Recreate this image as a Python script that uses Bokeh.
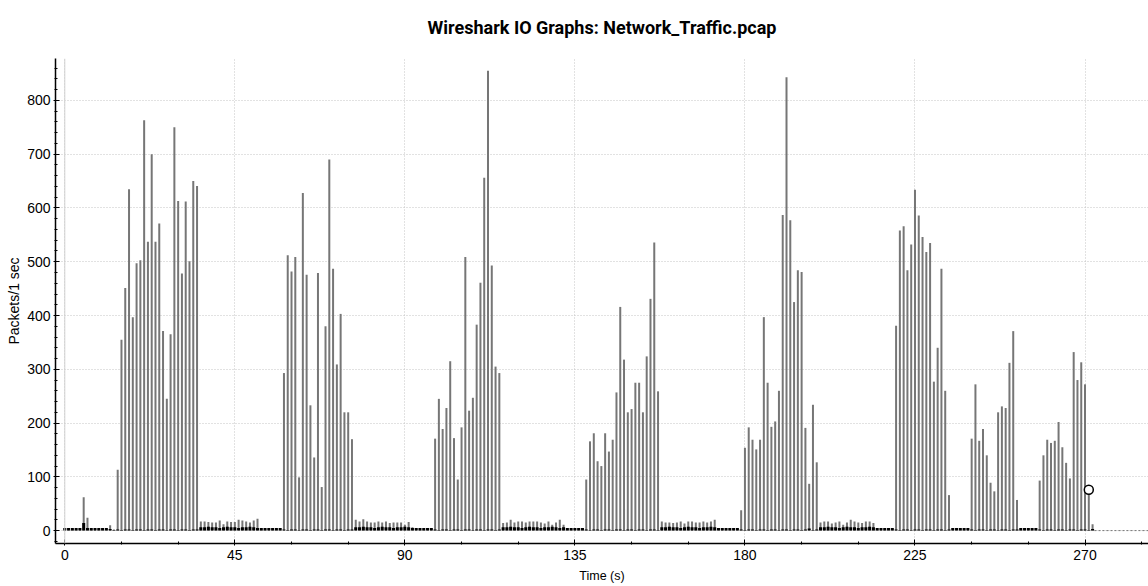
from bokeh.plotting import figure
from bokeh.models import Range1d, Span, FixedTicker, ColumnDataSource, LinearAxis
from bokeh.embed import file_html
from bokeh.resources import INLINE

# ---- data: packets per 1-second interval ----
lead_in   = [4, 4, 3, 4, 4, 62, 24, 4, 4, 3, 4, 4, 10, 2]                       # t 0-13
burst_1   = [113, 355, 451, 635, 397, 497, 503, 763, 537, 700, 537, 571, 371, 245,
             365, 750, 613, 478, 612, 501, 650, 641]                              # t 14-35
trickle_1 = [17, 17, 16, 15, 15, 19, 12, 17, 16, 16, 20, 19, 17, 15, 19, 22]      # t 36-51
idle_1    = [4, 3, 4, 4, 3, 4]                                                    # t 52-57
burst_2   = [293, 512, 482, 509, 99, 628, 476, 233, 136, 479, 81, 380, 690, 487,
             309, 403, 220, 220, 170]                                             # t 58-76
trickle_2 = [20, 17, 21, 17, 15, 15, 17, 15, 17, 14, 15, 15, 15, 11, 16, 6]       # t 77-92
idle_2    = [4, 4, 3, 4, 4]                                                       # t 93-97
burst_3   = [171, 245, 189, 228, 315, 172, 95, 192, 509, 223, 247, 383, 461, 656,
             855, 493, 305, 293]                                                  # t 98-115
trickle_3 = [14, 15, 20, 15, 17, 17, 15, 17, 17, 17, 15, 13, 17, 11, 15, 20, 11]  # t 116-132
idle_3    = [4, 3, 4, 4, 3]                                                       # t 133-137
burst_4   = [95, 166, 181, 129, 120, 181, 147, 169, 257, 416, 318, 220, 226, 275,
             275, 220, 324, 431, 536, 259]                                        # t 138-157
trickle_4 = [17, 15, 15, 14, 15, 17, 13, 17, 17, 15, 15, 17, 15, 17, 20]          # t 158-172
idle_4    = [4, 4, 3, 4, 4, 3]                                                    # t 173-178
burst_5   = [38, 154, 192, 169, 151, 169, 397, 275, 193, 203, 260, 587, 843, 577,
             425, 484, 481, 191, 87, 234, 127]                                    # t 179-199
trickle_5 = [15, 17, 17, 13, 15, 17, 11, 15, 20, 17, 15, 14, 17, 17, 14]          # t 200-214
idle_5    = [4, 3, 4, 4, 3]                                                       # t 215-219
burst_6   = [381, 558, 566, 484, 532, 634, 586, 546, 518, 535, 277, 340, 487, 260, 66]  # t 220-234
idle_6    = [4, 4, 3, 4, 4]                                                       # t 235-239
burst_7   = [171, 272, 167, 189, 140, 89, 73, 220, 231, 228, 312, 371, 57]        # t 240-252
idle_7    = [3, 4, 4, 3, 4]                                                       # t 253-257
burst_8   = [93, 140, 169, 163, 167, 202, 155, 126, 97, 332, 280, 313, 272, 76, 12]  # t 258-272

# second (black) graph: small per-second counts hugging the baseline
low_lead    = [5, 5, 5, 5, 5, 14, 5, 5, 5, 5, 5, 5, 3, 1]
low_b1      = [2, 1, 2, 2, 1, 2, 2, 1, 2, 2, 1, 2, 2, 1, 2, 2, 1, 2, 2, 1, 2, 2]
low_t1      = [6, 6, 7, 6, 6, 5, 6, 7, 6, 6, 5, 6, 6, 7, 6, 5]
low_i1      = [5, 5, 5, 5, 5, 5]
low_b2      = [2, 1, 2, 2, 1, 2, 2, 1, 2, 2, 1, 2, 2, 1, 2, 2, 1, 2, 2]
low_t2      = [6, 6, 7, 6, 6, 5, 6, 7, 6, 6, 5, 6, 6, 7, 6, 5]
low_i2      = [5, 5, 5, 5, 5]
low_b3      = [2, 1, 2, 2, 1, 2, 2, 1, 2, 2, 1, 2, 2, 1, 2, 2, 1, 2]
low_t3      = [6, 6, 7, 6, 6, 5, 6, 7, 6, 6, 5, 6, 6, 7, 6, 5, 6]
low_i3      = [5, 5, 5, 5, 5]
low_b4      = [2, 1, 2, 2, 1, 2, 2, 1, 2, 2, 1, 2, 2, 1, 2, 2, 1, 2, 2, 1]
low_t4      = [6, 6, 7, 6, 6, 5, 6, 7, 6, 6, 5, 6, 6, 7, 6]
low_i4      = [5, 5, 5, 5, 5, 5]
low_b5      = [2, 1, 2, 2, 1, 2, 2, 1, 2, 2, 1, 2, 2, 1, 2, 2, 1, 2, 4, 1, 2]
low_t5      = [6, 6, 7, 6, 6, 5, 6, 7, 6, 6, 5, 6, 6, 7, 6]
low_i5      = [5, 5, 5, 5, 5]
low_b6      = [2, 1, 2, 2, 1, 2, 2, 1, 2, 2, 1, 2, 2, 1, 2]
low_i6      = [5, 5, 5, 5, 5]
low_b7      = [2, 1, 2, 2, 1, 2, 2, 1, 2, 2, 1, 2, 2]
low_i7      = [5, 5, 5, 5, 5]
low_b8      = [2, 1, 2, 2, 1, 2, 2, 1, 2, 2, 1, 2, 2, 1, 3]

x_tick_values = [0, 45, 90, 135, 180, 225, 270]
y_tick_values = [0, 100, 200, 300, 400, 500, 600, 700, 800]
chart_title = "Wireshark IO Graphs: Network_Traffic.pcap"

packets = (lead_in + burst_1 + trickle_1 + idle_1 + burst_2 + trickle_2 + idle_2 +
           burst_3 + trickle_3 + idle_3 + burst_4 + trickle_4 + idle_4 + burst_5 +
           trickle_5 + idle_5 + burst_6 + idle_6 + burst_7 + idle_7 + burst_8)
low = (low_lead + low_b1 + low_t1 + low_i1 + low_b2 + low_t2 + low_i2 + low_b3 + low_t3 +
       low_i3 + low_b4 + low_t4 + low_i4 + low_b5 + low_t5 + low_i5 + low_b6 + low_i6 +
       low_b7 + low_i7 + low_b8)
seconds = list(range(len(packets)))

src = ColumnDataSource(dict(t=seconds, v=packets, low=low, zero=[0] * len(packets)))

X_START, X_END = -2.46, 286.8
p = figure(width=1148, height=586, output_backend="svg", toolbar_location=None,
           x_range=Range1d(X_START, X_END), y_range=Range1d(-24, 878),
           min_border_left=55, min_border_right=0, min_border_top=58, min_border_bottom=43,
           background_fill_color="white", border_fill_color="white")
p.outline_line_color = None
p.title.visible = False

xax, yax = p.below[0], p.left[0]

# chart title, carried by a bare axis above the frame
title_axis = LinearAxis(ticker=FixedTicker(ticks=[], minor_ticks=[]), axis_label=chart_title)
title_axis.axis_line_color = None
title_axis.major_tick_line_color = None
title_axis.minor_tick_line_color = None
title_axis.major_label_standoff = 0
title_axis.axis_label_standoff = 21
title_axis.axis_label_text_font = "Roboto"
title_axis.axis_label_text_font_style = "bold"
title_axis.axis_label_text_font_size = "18px"
title_axis.axis_label_text_color = "black"
p.add_layout(title_axis, "above")

# grid
p.xgrid.ticker = FixedTicker(ticks=x_tick_values)
p.ygrid.ticker = FixedTicker(ticks=y_tick_values)
for g in (p.xgrid, p.ygrid):
    g.grid_line_color = "#c4c4c4"
    g.grid_line_dash = "1 2"
    g.grid_line_width = 1
p.add_layout(Span(location=0, dimension="height", line_color="#d2d2d2", line_width=1))

# axes
x_minor = [v for v in range(-15, 300, 15)]
y_minor = [v for v in range(-20, 880, 20)]
xax.ticker = FixedTicker(ticks=x_tick_values, minor_ticks=x_minor)
yax.ticker = FixedTicker(ticks=y_tick_values, minor_ticks=y_minor)
for ax in (xax, yax):
    ax.axis_line_color = "black"
    ax.axis_line_width = 1.5
    ax.major_tick_line_color = "black"
    ax.minor_tick_line_color = "black"
    ax.major_tick_in = 4
    ax.major_tick_out = 2
    ax.minor_tick_in = 2
    ax.minor_tick_out = 1
    ax.major_label_text_font = "Liberation Sans"
    ax.major_label_text_font_size = "14px"
    ax.major_label_text_color = "black"
    ax.axis_label_text_font = "Liberation Sans"
    ax.axis_label_text_font_style = "normal"
    ax.axis_label_text_color = "black"
xax.major_label_standoff = 4
yax.major_label_standoff = 3
xax.axis_label = "Time (s)"
xax.axis_label_text_font_size = "12.5px"
xax.axis_label_standoff = 6
yax.axis_label = "Packets/1 sec"
yax.axis_label_text_font_size = "14px"
yax.axis_label_standoff = 2

# impulses
p.segment(x0="t", y0="zero", x1="t", y1="v", source=src, line_color="#767676", line_width=2)
# baseline graph
p.vbar(x="t", top="low", bottom="zero", width=0.8, source=src, fill_color="black", line_color=None)
# dotted continuation of the baseline after the capture ends
p.line(x=[seconds[-1] + 0.5, X_END], y=[0, 0], line_color="#777777", line_dash="2 2", line_width=1)
# selected-point marker
p.scatter(x=[seconds[271]], y=[packets[271]], marker="circle", size=9,
          fill_color="white", line_color="black", line_width=1.5)

open("out.html", "w").write(file_html(p, INLINE))
